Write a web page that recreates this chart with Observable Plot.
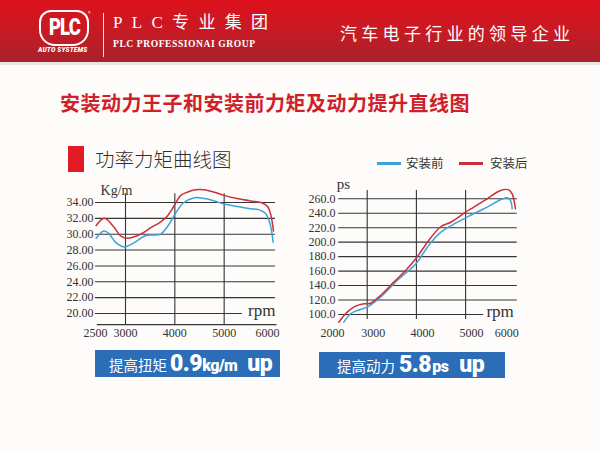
<!DOCTYPE html>
<html>
<head>
<meta charset="utf-8">
<script src="https://cdn.jsdelivr.net/npm/d3@7"></script>
<script src="https://cdn.jsdelivr.net/npm/@observablehq/plot@0.6"></script>
<style>
html,body{margin:0;padding:0;background:#fdfcfa;}
#page{position:relative;width:600px;height:450px;overflow:hidden;background:#fdfcfa;font-family:"Noto Sans CJK SC","Noto Sans",sans-serif;}
.abs{position:absolute;white-space:nowrap;}
#hdr{position:absolute;left:0;top:0;width:600px;height:62px;background:linear-gradient(180deg,#dc111c 0%,#c81a24 50%,#a9222a 100%);}
#stripe{position:absolute;left:0;top:62px;width:600px;height:3px;background:#e9e5e2;}
#logo{left:39px;top:10px;width:46px;height:32px;border:2px solid #fff;border-radius:12px 12px 16px 16px;color:#fff;font-family:Roboto,sans-serif;font-weight:900;font-size:23px;line-height:32px;text-align:center;letter-spacing:-1px;}
#logo span{display:inline-block;transform:scaleX(0.8);}
#reg{left:88px;top:9px;color:#fff;font-size:5px;}
#auto{left:38px;top:46px;color:#fff;font-family:Roboto,sans-serif;font-weight:900;font-style:italic;font-size:6.5px;letter-spacing:0.2px;}
#sep{left:103px;top:13px;width:1px;height:44px;background:rgba(255,255,255,0.85);}
#brand{left:113px;top:11px;color:#fff;font-family:"Liberation Serif","Noto Sans CJK SC",serif;font-size:17px;letter-spacing:9.3px;line-height:24px;}
#brand2{left:113px;top:38px;color:#fff;font-family:"Liberation Serif",serif;font-weight:bold;font-size:9.6px;letter-spacing:0.55px;line-height:12px;}
#slogan{left:340px;top:21px;color:#fff;font-family:"Noto Sans CJK SC",sans-serif;font-size:17px;letter-spacing:4.3px;line-height:24px;}
#title{left:60px;top:89px;color:#cf1f29;font-family:"Noto Sans CJK SC",sans-serif;font-weight:700;font-size:20px;letter-spacing:0.5px;line-height:28px;}
#hblock{left:68px;top:146px;width:16px;height:26px;background:#e11a24;}
#htext{left:95px;top:145px;color:#2e2e2e;font-family:"Noto Sans CJK SC",sans-serif;font-weight:300;font-size:19.5px;line-height:28px;}
.lgline{position:absolute;height:2.5px;}
.lgtext{position:absolute;color:#333;font-family:"Noto Sans CJK SC",sans-serif;font-size:12.5px;line-height:16px;white-space:nowrap;}
.box{position:absolute;background:#2b6db6;color:#fff;white-space:nowrap;line-height:27px;}
.box .cn{font-family:"Noto Sans CJK SC",sans-serif;font-size:14.5px;}
.box .big{font-family:Roboto,sans-serif;font-weight:900;font-size:23px;letter-spacing:-0.5px;}
.box .mid{font-family:Roboto,sans-serif;font-weight:900;font-size:16px;letter-spacing:-0.5px;}
.chart{position:absolute;}
</style>
</head>
<body>
<div id="page">
  <div id="hdr"></div>
  <div id="stripe"></div>
  <div id="logo" class="abs"><span>PLC</span></div>
  <div id="reg" class="abs">®</div>
  <div id="auto" class="abs">AUTO SYSTEMS</div>
  <div id="sep" class="abs"></div>
  <div id="brand" class="abs">PLC专业集团</div>
  <div id="brand2" class="abs">PLC PROFESSIONAI GROUP</div>
  <div id="slogan" class="abs">汽车电子行业的领导企业</div>
  <div id="title" class="abs">安装动力王子和安装前力矩及动力提升直线图</div>
  <div id="hblock" class="abs"></div>
  <div id="htext" class="abs">功率力矩曲线图</div>
  <div id="legend"></div>
  <div id="leftChart" class="chart" style="left:55px;top:170px;"></div>
  <div id="rightChart" class="chart" style="left:300px;top:170px;"></div>
  <div class="box" style="left:95px;top:350px;width:185px;height:27px;"><span class="cn" style="margin-left:14px">提高扭矩</span><span class="big" style="margin-left:3px">0.9</span><span class="mid">kg/m</span><span class="big" style="margin-left:10px">up</span></div>
  <div class="box" style="left:319px;top:352px;width:186px;height:26px;line-height:26px;"><span class="cn" style="margin-left:18px">提高动力</span><span class="big" style="margin-left:4px">5.8</span><span class="mid" style="margin-left:1px">ps</span><span class="big" style="margin-left:11px">up</span></div>
</div>
<script>
// ---- data ----
const seriesNames = ["安装前", "安装后"];
const seriesColors = ["#3ea2d6", "#c9303a"];

const torqueTicks = [20, 22, 24, 26, 28, 30, 32, 34];
const torqueRpmTicks = [2500, 3000, 4000, 5000, 6000];
const powerTicks = [100, 120, 140, 160, 180, 200, 220, 240, 260];
const powerRpmTicks = [2000, 3000, 4000, 5000, 6000];
const gridRpm = [3000, 4000, 5000];

// torque (Kg/m) before install
const torqueBeforeRpm = [2511, 2639, 2722, 2833, 2972, 3169, 3400, 3574, 3709, 3845, 4000, 4182, 4400, 4600, 4800, 5000, 5264, 5534, 5700, 5840, 5930, 5993];
const torqueBefore    = [29.5, 30.4, 30.1, 29.0, 28.4, 28.9, 29.8, 29.9, 30.0, 30.9, 32.5, 34.0, 34.6, 34.5, 34.2, 33.8, 33.5, 33.2, 33.1, 32.6, 31.3, 29.0];
// torque (Kg/m) after install
const torqueAfterRpm = [2511, 2650, 2806, 2917, 3034, 3304, 3507, 3700, 3850, 3950, 4014, 4120, 4250, 4420, 4600, 4800, 5000, 5264, 5534, 5750, 5880, 5950, 6000];
const torqueAfter    = [31.1, 32.0, 30.9, 29.8, 29.5, 30.0, 30.8, 31.5, 32.3, 33.2, 33.9, 34.9, 35.3, 35.6, 35.6, 35.3, 34.9, 34.5, 34.2, 34.0, 33.5, 32.3, 30.4];

// power (ps) before install
const powerBeforeRpm = [2425, 2590, 2754, 3000, 3270, 3610, 4000, 4224, 4498, 5000, 5439, 5709, 5845, 5913, 5946];
const powerBefore    = [89.3, 101, 105.5, 110.1, 123.9, 147, 171, 193.1, 213.8, 233.7, 248.4, 258.6, 261.4, 257.6, 246.2];
// power (ps) after install
const powerAfterRpm = [2302, 2509, 2713, 2918, 3067, 3270, 3541, 3813, 4000, 4224, 4498, 4701, 5000, 5167, 5439, 5709, 5878, 5946, 6013];
const powerAfter    = [89.3, 103.2, 111.5, 114.8, 115.6, 126.3, 144.7, 163.2, 178, 200.0, 221.7, 227.6, 241.5, 248.4, 260, 271.5, 272.4, 266.9, 246.2];

// ---- helpers ----
const serif = "'Liberation Serif','DejaVu Serif',serif";
const gridColor = "#343434";
const toRows = (xs, ys) => xs.map((x, i) => ({x, y: ys[i]}));

// legend
const legend = document.getElementById("legend");
const lgPos = [[377, 406], [459, 490]];
seriesNames.forEach((name, i) => {
  const ln = document.createElement("div");
  ln.className = "lgline";
  ln.style.cssText = `left:${lgPos[i][0]}px;top:162px;width:24px;background:${seriesColors[i]};`;
  legend.appendChild(ln);
  const tx = document.createElement("div");
  tx.className = "lgtext";
  tx.style.cssText = `left:${lgPos[i][1]}px;top:155px;`;
  tx.textContent = name;
  legend.appendChild(tx);
});

// ---- torque chart ----
const left = Plot.plot({
  width: 235, height: 170,
  marginLeft: 41, marginRight: 0, marginTop: 0, marginBottom: 16,
  style: {background: "transparent", fontFamily: serif, fontSize: "12px", color: "#333", overflow: "visible"},
  x: {type: "linear", domain: [2500, 3000, 6000], range: [40, 70, 218]},
  y: {type: "linear", domain: [19, 36], range: [150.93, 16.14]},
  marks: [
    Plot.ruleY(torqueTicks.filter(d => d > 20), {x1: 2500, x2: 6040, stroke: gridColor, strokeWidth: 1.1}),
    Plot.ruleY(torqueTicks.filter(d => d === 20), {x1: 2500, x2: 5370, stroke: gridColor, strokeWidth: 1.1}),
    Plot.ruleY([18.6], {x1: 2530, x2: 6070, stroke: gridColor, strokeWidth: 1.1}),
    Plot.ruleX(gridRpm, {y1: 18.6, y2: 35.1, stroke: gridColor, strokeWidth: 1.1}),
    Plot.axisX(torqueRpmTicks.filter(d => d < 6000), {tickSize: 0, tickPadding: 4, tickFormat: d => String(d), label: null, fontSize: 12}),
    Plot.axisX(torqueRpmTicks.filter(d => d === 6000), {tickSize: 0, tickPadding: 4, dx: -6, tickFormat: d => String(d), label: null, fontSize: 12}),
    Plot.axisY(torqueTicks, {tickSize: 0, tickPadding: 3, tickFormat: d3.format(".2f"), label: null, fontSize: 12}),
    Plot.text(["Kg/m"], {frameAnchor: "top-left", dx: 20, dy: 15, textAnchor: "middle", fontSize: 14, fill: "#333"}),
    Plot.text(["rpm"], {x: 6040, y: 20, textAnchor: "end", lineAnchor: "middle", dy: -3, fontSize: 17, fill: "#333"}),
    Plot.line(toRows(torqueBeforeRpm, torqueBefore), {x: "x", y: "y", curve: "catmull-rom", stroke: seriesColors[0], strokeWidth: 1.5}),
    Plot.line(toRows(torqueAfterRpm, torqueAfter), {x: "x", y: "y", curve: "catmull-rom", stroke: seriesColors[1], strokeWidth: 1.5})
  ]
});
document.getElementById("leftChart").appendChild(left);

// ---- power chart ----
const right = Plot.plot({
  width: 235, height: 170,
  marginLeft: 38, marginRight: 0, marginTop: 0, marginBottom: 16,
  style: {background: "transparent", fontFamily: serif, fontSize: "12px", color: "#333", overflow: "visible"},
  x: {type: "linear", domain: [2000, 3000, 6000], range: [26, 66.7, 214.3]},
  y: {type: "linear", domain: [90, 275], range: [151.2, 17.45]},
  marks: [
    Plot.ruleY(powerTicks.filter(d => d > 100), {x1: 2300, x2: 6050, stroke: gridColor, strokeWidth: 1.1}),
    Plot.ruleY(powerTicks.filter(d => d === 100), {x1: 2300, x2: 5370, stroke: gridColor, strokeWidth: 1.1}),
    Plot.ruleX(gridRpm, {y1: 93, y2: 271.5, stroke: gridColor, strokeWidth: 1.1}),
    Plot.axisX(powerRpmTicks.filter(d => d < 6000), {tickSize: 0, tickPadding: 4, dx: 6, tickFormat: d => String(d), label: null, fontSize: 12}),
    Plot.axisX(powerRpmTicks.filter(d => d === 6000), {tickSize: 0, tickPadding: 4, dx: -8, tickFormat: d => String(d), label: null, fontSize: 12}),
    Plot.axisY(powerTicks, {tickSize: 0, tickPadding: 3, tickFormat: d3.format(".1f"), label: null, fontSize: 12}),
    Plot.text(["ps"], {frameAnchor: "top-left", dx: 5, dy: 8, textAnchor: "middle", fontSize: 15, fill: "#333"}),
    Plot.text(["rpm"], {x: 5980, y: 100, textAnchor: "end", lineAnchor: "middle", dy: -3, fontSize: 17, fill: "#333"}),
    Plot.line(toRows(powerBeforeRpm, powerBefore), {x: "x", y: "y", curve: "catmull-rom", stroke: seriesColors[0], strokeWidth: 1.5}),
    Plot.line(toRows(powerAfterRpm, powerAfter), {x: "x", y: "y", curve: "catmull-rom", stroke: seriesColors[1], strokeWidth: 1.5})
  ]
});
document.getElementById("rightChart").appendChild(right);
</script>
</body>
</html>
